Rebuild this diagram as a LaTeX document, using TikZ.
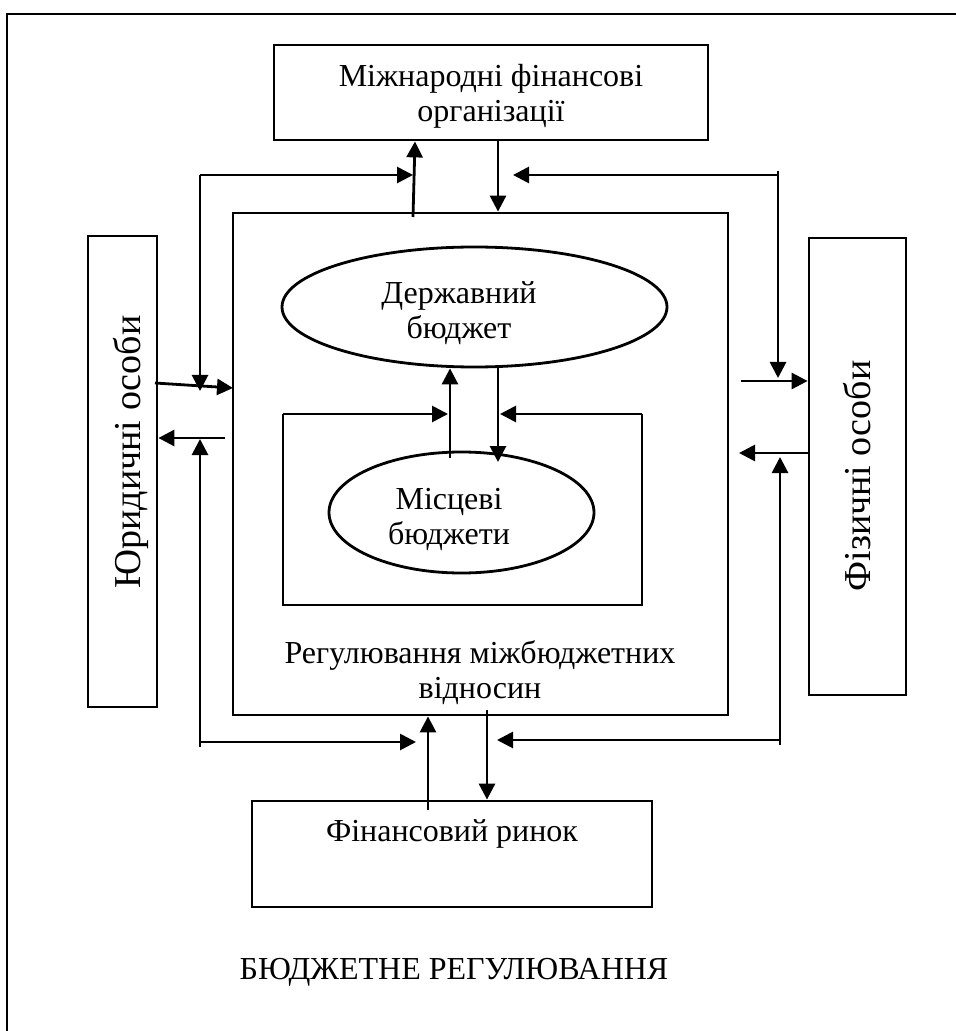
\documentclass[tikz,border=0pt]{standalone}
\usepackage{fontspec}
\setmainfont{Liberation Serif}
\usetikzlibrary{arrows.meta,shapes.geometric}
\begin{document}
\begin{tikzpicture}[x=0.5pt,y=-0.5pt,line width=1.4pt,
  txt/.style={font=\fontsize{16}{17.5}\selectfont},
  box/.style={draw,rectangle,inner sep=0pt},
  vlbl/.style={inner sep=0pt,rotate=90,font=\fontsize{19}{21}\selectfont},
  oval/.style={draw,ellipse,inner sep=0pt},
  lbl/.style={align=center,inner sep=0pt,txt},
  arr/.style={-{Triangle[length=8pt,width=8pt]}}]
\useasboundingbox (0,0) rectangle (956,1031);
% outer frame
\coordinate (fBL) at (7,1031);
\coordinate (fTL) at (7,14);
\coordinate (fTR) at (956,14);
\draw (fBL) -- (fTL) -- (fTR);
% boxes
\node[box,minimum width=217pt,minimum height=47.5pt] (mfo) at (491,92.5) {};
\node[lbl] (mfot) at (491,96) {Міжнародні фінансові\\організації};
\node[box,minimum width=247.5pt,minimum height=251pt] (main) at (480.5,464) {};
\node[box,minimum width=34.5pt,minimum height=235.5pt] (lft) at (122.5,471.5) {};
\node[vlbl] (lftt) at (131,452) {Юридичні особи};
\node[box,minimum width=48.5pt,minimum height=228.5pt] (rgt) at (857.5,466.5) {};
\node[vlbl] (rgtt) at (857,476) {Фізичні особи};
\node[oval,minimum width=192.5pt,minimum height=60pt] (db) at (474.5,307) {};
\node[lbl] (dbt) at (459,313) {Державний\\бюджет};
\node[oval,minimum width=132.5pt,minimum height=60.5pt] (mb) at (461.5,512.5) {};
\node[lbl] (mbt) at (449,519) {Місцеві\\бюджети};
\node[box,minimum width=200pt,minimum height=53pt] (fin) at (452,854) {};
\node[lbl] (fint) at (452,834) {Фінансовий ринок};
\node[lbl] (reg) at (480,672.5) {Регулювання міжбюджетних\\відносин};
\node[lbl] (title) at (454,972) {БЮДЖЕТНЕ РЕГУЛЮВАННЯ};
% inner open rectangle
\coordinate (inTL) at (283,414);
\coordinate (inBL) at (283,605);
\coordinate (inBR) at (642,605);
\coordinate (inTR) at (642,414);
\draw (inTL) -- (inBL) -- (inBR) -- (inTR);
% top connections
\draw[arr] (413,217) -- (415,0 |- mfo.south);
\draw[arr] (498,0 |- mfo.south) -- (498,0 |- main.north);
% top-left loop
\coordinate (cTL) at (200,175);
\coordinate (eTLh) at (413,175);
\coordinate (eTLv) at (200,391);
\draw[arr] (cTL) -- (eTLh);
\draw[arr] (cTL) -- (eTLv);
% top-right loop
\coordinate (cTR) at (778,175);
\coordinate (cTRs) at (778,171);
\coordinate (eTRh) at (513,175);
\coordinate (eTRv) at (778,378);
\draw[arr] (cTR) -- (eTRh);
\draw[arr] (cTRs) -- (eTRv);
% left side
\coordinate (sL1) at (155,383);
\coordinate (sL2) at (225,438);
\draw[arr] (sL1) -- (233,388);
\draw[arr] (sL2) -- (sL2 -| lft.east);
% right side
\coordinate (sR1) at (741,381);
\coordinate (sR2) at (739,453);
\draw[arr] (sR1) -- (sR1 -| rgt.west);
\draw[arr] (sR2 -| rgt.west) -- (sR2);
% bottom-left loop
\coordinate (cBL) at (200,742);
\coordinate (cBLs) at (200,747);
\coordinate (eBLh) at (416,742);
\coordinate (eBLv) at (200,439);
\draw[arr] (cBL) -- (eBLh);
\draw[arr] (cBLs) -- (eBLv);
% bottom-right loop
\coordinate (cBR) at (780,740);
\coordinate (cBRs) at (780,745);
\coordinate (eBRh) at (497,740);
\coordinate (eBRv) at (780,457);
\draw[arr] (cBR) -- (eBRh);
\draw[arr] (cBRs) -- (eBRv);
% bottom connections
\draw[arr] (428,810) -- (428,0 |- main.south);
\draw[arr] (487,710) -- (487,0 |- fin.north);
% central connections
\coordinate (uS) at (450,458);
\coordinate (dE) at (498,462);
\draw[arr] (uS) -- (450,0 |- db.south);
\draw[arr] (498,0 |- db.south) -- (dE);
\draw[arr] (inTL) -- (448,414);
\draw[arr] (inTR) -- (500,414);
\end{tikzpicture}
\end{document}
